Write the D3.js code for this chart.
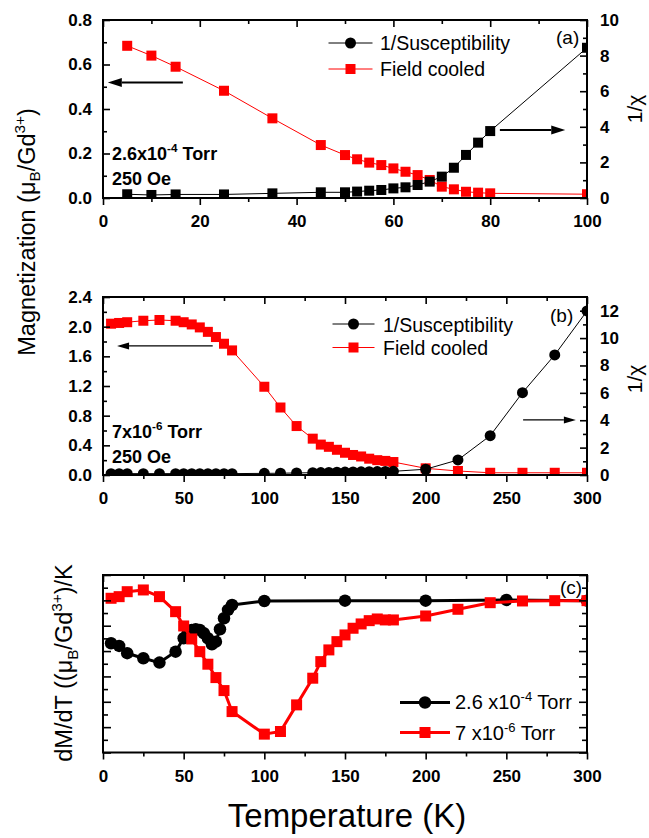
<!DOCTYPE html>
<html>
<head>
<meta charset="utf-8">
<script src="https://cdn.jsdelivr.net/npm/d3@7"></script>
<style>
  body { margin: 0; background: #fff; }
  svg { display: block; }
</style>
</head>
<body>
<script>
// ---- Panel (a): 2.6x10^-4 Torr, 250 Oe ----
const tempA   = [5, 10, 15, 25, 35, 45, 50, 52.5, 55, 57.5, 60, 62.5, 65, 67.5, 70, 72.5, 75, 77.5, 80, 100];
const fcA     = [0.684, 0.640, 0.590, 0.482, 0.358, 0.238, 0.193, 0.174, 0.159, 0.148, 0.133, 0.118, 0.103, 0.081, 0.051, 0.039, 0.028, 0.024, 0.021, 0.017];
const invChiA = [0.21, 0.17, 0.20, 0.20, 0.26, 0.32, 0.32, 0.36, 0.41, 0.45, 0.54, 0.60, 0.73, 0.92, 1.20, 1.70, 2.42, 3.11, 3.76, 8.44];

// ---- Panel (b): 7x10^-6 Torr, 250 Oe ----
const tempB   = [5, 10, 15, 25, 35, 45, 50, 55, 60, 65, 70, 75, 80, 100, 110, 120, 130, 135, 140, 145, 150, 155, 160, 165, 170, 175, 180, 200, 220, 240, 260, 280, 300];
const fcB     = [2.04, 2.05, 2.06, 2.08, 2.09, 2.08, 2.06, 2.03, 1.99, 1.93, 1.86, 1.77, 1.68, 1.19, 0.91, 0.66, 0.49, 0.41, 0.38, 0.34, 0.30, 0.27, 0.25, 0.22, 0.20, 0.19, 0.175, 0.09, 0.054, 0.03, 0.03, 0.03, 0.03];
const invChiB = [0.1, 0.1, 0.1, 0.1, 0.1, 0.1, 0.1, 0.1, 0.1, 0.1, 0.1, 0.1, 0.1, 0.12, 0.13, 0.15, 0.17, 0.18, 0.19, 0.20, 0.21, 0.22, 0.23, 0.24, 0.25, 0.26, 0.27, 0.42, 1.10, 2.87, 6.01, 8.77, 11.98];

// ---- Panel (c): dM/dT (arbitrary units) ----
const tempC1 = [5, 10, 15, 25, 35, 45, 50, 52.5, 55, 57.5, 60, 62.5, 65, 67.5, 70, 72.5, 75, 77.5, 80, 100, 150, 200, 250, 300];
const dmdtC1 = [-13.45, -13.98, -15.42, -16.41, -17.27, -15.11, -12.47, -11.37, -10.83, -10.70, -10.83, -11.48, -12.47, -13.65, -13.14, -10.70, -8.53, -6.89, -5.91, -5.12, -5.06, -5.06, -4.92, -5.06];
const tempC2 = [5, 10, 15, 25, 35, 45, 50, 55, 60, 65, 70, 75, 80, 100, 110, 120, 130, 135, 140, 145, 150, 155, 160, 165, 170, 175, 180, 200, 220, 240, 260, 280, 300];
const dmdtC2 = [-4.59, -4.27, -3.29, -2.95, -4.27, -7.23, -10.05, -12.61, -15.11, -17.59, -20.23, -22.79, -26.93, -31.38, -30.86, -25.61, -20.35, -17.08, -14.77, -13.14, -11.82, -10.50, -9.65, -9.00, -8.67, -8.86, -8.86, -8.08, -6.76, -5.46, -5.12, -5.06, -5.06];

// Axis tick values
const xTicksA = [0, 20, 40, 60, 80, 100];
const xMinorA = [10, 30, 50, 70, 90];
const xTicksBC = [0, 50, 100, 150, 200, 250, 300];
const xMinorBC = [25, 75, 125, 175, 225, 275];
const yTicksA = [0, 0.2, 0.4, 0.6, 0.8];
const yMinorA = [0.1, 0.3, 0.5, 0.7];
const rTicksA = [0, 2, 4, 6, 8, 10];
const rMinorA = [1, 3, 5, 7, 9];
const yTicksB = [0, 0.4, 0.8, 1.2, 1.6, 2.0, 2.4];
const yMinorB = [0.2, 0.6, 1.0, 1.4, 1.8, 2.2];
const rTicksB = [0, 2, 4, 6, 8, 10, 12];
const rMinorB = [1, 3, 5, 7, 9, 11];
const yTicksC = [-35, -30, -25, -20, -15, -10, -5, 0];
const yMinorC = [-32.5, -27.5, -22.5, -17.5, -12.5, -7.5, -2.5];

// Direction arrows: [from, to] in data coordinates, on the named axis
const arrowsA = [
  { axis: "left",  from: [16.5, 0.519], to: [1.0, 0.519] },
  { axis: "right", from: [82.0, 3.82],  to: [95.5, 3.82] }
];
const arrowsB = [
  { axis: "left",  from: [68.0, 1.74],  to: [8.7, 1.74] },
  { axis: "right", from: [260.4, 4.02], to: [293.1, 4.02] }
];

const FONT = "'Liberation Sans', Arial, Helvetica, sans-serif";
const RED = "#ff0000";

const svg = d3.select("body").append("svg")
  .attr("width", 649).attr("height", 838)
  .attr("font-family", FONT);

const X0 = 103, X1 = 587;

const zip = (xs, ys) => xs.map((t, i) => ({ t, v: ys[i] }));

// Text with optional super/subscript pieces
function richText(parent, x, y, parts, o) {
  const fs = o.size;
  const t = parent.append("text")
    .attr("x", x).attr("y", y)
    .attr("font-size", fs)
    .attr("font-family", FONT)
    .attr("font-weight", o.bold ? "bold" : "normal")
    .attr("text-anchor", o.anchor || "start")
    .attr("fill", "#000");
  if (o.transform) t.attr("transform", o.transform);
  let shift = 0;
  parts.forEach(p => {
    const [str, kind] = Array.isArray(p) ? p : [p, null];
    const target = kind === "sup" ? -0.42 * fs : kind === "sub" ? 0.24 * fs : 0;
    const ts = t.append("tspan").text(str).attr("dy", target - shift);
    if (kind) ts.attr("font-size", fs * 0.65);
    shift = target;
  });
  return t;
}

function styleAxis(a, labelled) {
  a.select(".domain").remove();
  a.attr("font-family", FONT).attr("font-size", 17).attr("font-weight", "bold");
  a.selectAll(".tick line").attr("stroke", "#000").attr("stroke-width", 1.6);
  a.selectAll(".tick text").attr("fill", "#000");
  if (!labelled) a.selectAll(".tick text").remove();
}

function drawAxes(g, p) {
  const { x, yL, yR, top, bottom } = p;
  const add = (gen, tx, ty, labelled) =>
    styleAxis(g.append("g").attr("transform", `translate(${tx},${ty})`).call(gen), labelled);

  // bottom: outward ticks with labels
  add(d3.axisBottom(x).tickValues(p.xTicks).tickSize(7).tickPadding(10).tickFormat(d3.format("d")), 0, bottom, true);
  add(d3.axisBottom(x).tickValues(p.xMinor).tickSize(4).tickFormat(""), 0, bottom, false);
  // top: inward ticks
  add(d3.axisTop(x).tickValues(p.xTicks).tickSize(-7).tickFormat(""), 0, top, false);
  add(d3.axisTop(x).tickValues(p.xMinor).tickSize(-4).tickFormat(""), 0, top, false);
  // left: inward ticks
  add(d3.axisLeft(yL).tickValues(p.yTicks).tickSize(-p.majorLen).tickPadding(11).tickFormat(p.yFmt || ""), X0, 0, !!p.yFmt);
  add(d3.axisLeft(yL).tickValues(p.yMinor).tickSize(-p.minorLen).tickFormat(""), X0, 0, false);
  // right: inward ticks
  add(d3.axisRight(yR).tickValues(p.rTicks).tickSize(-p.majorLen).tickPadding(13).tickFormat(p.rFmt || ""), X1, 0, !!p.rFmt);
  add(d3.axisRight(yR).tickValues(p.rMinor).tickSize(-p.minorLen).tickFormat(""), X1, 0, false);
}

function drawSeries(g, x, y, data, o) {
  const line = d3.line().x(d => x(d.t)).y(d => y(d.v));
  g.append("path").datum(data)
    .attr("d", line)
    .attr("fill", "none")
    .attr("stroke", o.color)
    .attr("stroke-width", o.lw)
    .attr("stroke-linejoin", "round");
  if (o.shape === "square") {
    g.selectAll(null).data(data).enter().append("rect")
      .attr("x", d => x(d.t) - o.size / 2)
      .attr("y", d => y(d.v) - o.size / 2)
      .attr("width", o.size).attr("height", o.size)
      .attr("fill", o.color);
  } else {
    g.selectAll(null).data(data).enter().append("circle")
      .attr("cx", d => x(d.t)).attr("cy", d => y(d.v))
      .attr("r", o.size / 2)
      .attr("fill", o.color);
  }
}

function legendRow(g, cx, cy, halfLen, o, textX, textY, parts, fs) {
  g.append("line")
    .attr("x1", cx - halfLen).attr("x2", cx + halfLen)
    .attr("y1", cy).attr("y2", cy)
    .attr("stroke", o.color).attr("stroke-width", o.lw);
  if (o.shape === "square") {
    g.append("rect").attr("x", cx - o.size / 2).attr("y", cy - o.size / 2)
      .attr("width", o.size).attr("height", o.size).attr("fill", o.color);
  } else {
    g.append("circle").attr("cx", cx).attr("cy", cy).attr("r", o.size / 2).attr("fill", o.color);
  }
  richText(g, textX, textY, parts, { size: fs });
}

function drawArrow(g, x1, y1, x2, y2, lw, headLen, headHalf) {
  const ang = Math.atan2(y2 - y1, x2 - x1);
  const bx = x2 - headLen * Math.cos(ang), by = y2 - headLen * Math.sin(ang);
  g.append("line").attr("x1", x1).attr("y1", y1).attr("x2", bx).attr("y2", by)
    .attr("stroke", "#000").attr("stroke-width", lw);
  const nx = -Math.sin(ang) * headHalf, ny = Math.cos(ang) * headHalf;
  g.append("path")
    .attr("d", `M${x2},${y2}L${bx + nx},${by + ny}L${bx - nx},${by - ny}Z`)
    .attr("fill", "#000");
}

function makePanel(id, cfg) {
  const g = svg.append("g");
  const x = d3.scaleLinear().domain(cfg.xDomain).range([X0, X1]);
  const yL = d3.scaleLinear().domain(cfg.yDomain).range([cfg.bottom, cfg.top]);
  const yR = d3.scaleLinear().domain(cfg.rDomain).range([cfg.bottom, cfg.top]);

  svg.append("clipPath").attr("id", "clip-" + id)
    .append("rect").attr("x", X0).attr("y", cfg.top)
    .attr("width", X1 - X0).attr("height", cfg.bottom - cfg.top);

  const plot = g.append("g").attr("clip-path", `url(#clip-${id})`);
  cfg.series.forEach(s => drawSeries(plot, x, s.axis === "right" ? yR : yL, s.data, s));

  drawAxes(g, Object.assign({ x, yL, yR }, cfg));

  g.append("rect")
    .attr("x", X0).attr("y", cfg.top)
    .attr("width", X1 - X0).attr("height", cfg.bottom - cfg.top)
    .attr("fill", "none").attr("stroke", "#000").attr("stroke-width", 2);

  (cfg.arrows || []).forEach(a => {
    const ys = a.axis === "right" ? yR : yL;
    drawArrow(g, x(a.from[0]), ys(a.from[1]), x(a.to[0]), ys(a.to[1]), cfg.arrowLw, cfg.headLen, cfg.headHalf);
  });
  return { g, x, yL, yR };
}

// Panel (a)
const styleBlackA = { color: "#000", lw: 1, shape: "square", size: 10 };
const styleRedA   = { color: RED,    lw: 1, shape: "square", size: 10 };
const pA = makePanel("a", {
  top: 20, bottom: 198,
  xDomain: [0, 100], yDomain: [0, 0.8], rDomain: [0, 10],
  xTicks: xTicksA, xMinor: xMinorA,
  yTicks: yTicksA, yMinor: yMinorA, yFmt: d3.format(".1f"),
  rTicks: rTicksA, rMinor: rMinorA, rFmt: d3.format("d"),
  majorLen: 7, minorLen: 4,
  series: [
    Object.assign({ data: zip(tempA, fcA), axis: "left" }, styleRedA),
    Object.assign({ data: zip(tempA, invChiA), axis: "right" }, styleBlackA)
  ],
  arrows: arrowsA, arrowLw: 2, headLen: 14, headHalf: 4.5
});
legendRow(pA.g, 350.5, 43, 22, { color: "#000", lw: 1, shape: "circle", size: 11 }, 380, 50, ["1/Susceptibility"], 19.5);
legendRow(pA.g, 350.5, 69, 22, { color: RED, lw: 1, shape: "square", size: 10 }, 380, 75.5, ["Field cooled"], 19.5);
richText(pA.g, 556, 44, ["(a)"], { size: 19 });
richText(pA.g, 112, 159.5, ["2.6x10", ["-4", "sup"], " Torr"], { size: 18, bold: true });
richText(pA.g, 112, 185, ["250 Oe"], { size: 18, bold: true });

// Panel (b)
const pB = makePanel("b", {
  top: 297, bottom: 475,
  xDomain: [0, 300], yDomain: [0, 2.4], rDomain: [0, 13],
  xTicks: xTicksBC, xMinor: xMinorBC,
  yTicks: yTicksB, yMinor: yMinorB, yFmt: d3.format(".1f"),
  rTicks: rTicksB, rMinor: rMinorB, rFmt: d3.format("d"),
  majorLen: 7, minorLen: 4,
  series: [
    { data: zip(tempB, fcB), axis: "left", color: RED, lw: 1, shape: "square", size: 10 },
    { data: zip(tempB, invChiB), axis: "right", color: "#000", lw: 1, shape: "circle", size: 11 }
  ],
  arrows: arrowsB, arrowLw: 1.2, headLen: 12, headHalf: 3.5
});
legendRow(pB.g, 353.5, 324, 21, { color: "#000", lw: 1, shape: "circle", size: 11 }, 383, 331.5, ["1/Susceptibility"], 19.5);
legendRow(pB.g, 353.5, 347.5, 21, { color: RED, lw: 1, shape: "square", size: 10 }, 383, 355, ["Field cooled"], 19.5);
richText(pB.g, 550, 322, ["(b)"], { size: 19 });
richText(pB.g, 112, 437.5, ["7x10", ["-6", "sup"], " Torr"], { size: 18, bold: true });
richText(pB.g, 112, 462.5, ["250 Oe"], { size: 18, bold: true });

// Panel (c)
const pC = makePanel("c", {
  top: 575, bottom: 752.5,
  xDomain: [0, 300], yDomain: [-35, 0], rDomain: [-35, 0],
  xTicks: xTicksBC, xMinor: xMinorBC,
  yTicks: yTicksC, yMinor: yMinorC,
  rTicks: yTicksC, rMinor: yMinorC,
  majorLen: 8, minorLen: 5,
  series: [
    { data: zip(tempC1, dmdtC1), axis: "left", color: "#000", lw: 3, shape: "circle", size: 12.5 },
    { data: zip(tempC2, dmdtC2), axis: "left", color: RED, lw: 3, shape: "square", size: 11 }
  ]
});
legendRow(pC.g, 425, 702.5, 25, { color: "#000", lw: 3, shape: "circle", size: 12.5 }, 455, 709, ["2.6 x10", ["-4", "sup"], " Torr"], 20);
legendRow(pC.g, 425, 732.5, 25, { color: RED, lw: 3, shape: "square", size: 11 }, 455, 740, ["7 x10", ["-6", "sup"], " Torr"], 20);
richText(pC.g, 560, 594, ["(c)"], { size: 19 });

// Axis titles
richText(svg, 0, 0, ["Magnetization (μ", ["B", "sub"], "/Gd", ["3+", "sup"], ")"],
  { size: 23.5, anchor: "middle", transform: "translate(34.5,232) rotate(-90)" });
richText(svg, 0, 0, ["1/χ"], { size: 21, anchor: "middle", transform: "translate(642,109) rotate(-90)" });
richText(svg, 0, 0, ["1/χ"], { size: 21, anchor: "middle", transform: "translate(642,379) rotate(-90)" });
richText(svg, 0, 0, ["dM/dT ((μ", ["B", "sub"], "/Gd", ["3+", "sup"], ")/K"],
  { size: 23.5, anchor: "middle", transform: "translate(72,663) rotate(-90)" });
richText(svg, 347, 827, ["Temperature (K)"], { size: 33, anchor: "middle" });
</script>
</body>
</html>
